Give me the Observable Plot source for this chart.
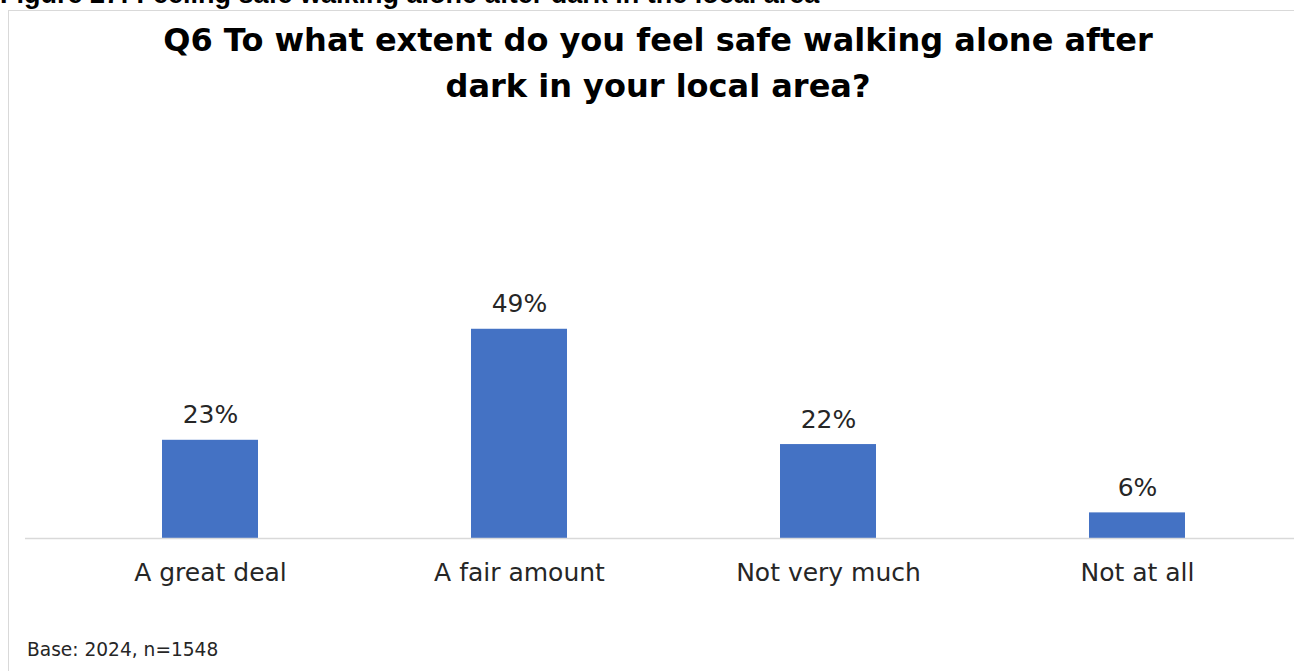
<!DOCTYPE html>
<html>
<head>
<meta charset="utf-8">
<script src="https://cdn.jsdelivr.net/npm/d3@7"></script>
<script src="https://cdn.jsdelivr.net/npm/@observablehq/plot@0.6"></script>
<style>
  html, body { margin: 0; padding: 0; background: #fff; width: 1294px; height: 671px; overflow: hidden; }
  #page { position: relative; width: 1294px; height: 671px; }
  #figcap { position: absolute; left: 0; top: -21px; font-family: "Liberation Sans", Arial, sans-serif; font-weight: bold; font-size: 27px; line-height: 30px; color: #000; white-space: nowrap; }
  #box { position: absolute; left: 8px; top: 10px; width: 1320px; height: 700px; border: 1px solid #d9d9d9; box-sizing: border-box; background: #fff; }
  #title { position: absolute; left: 0; width: 1316px; top: 17px; text-align: center; font-family: "DejaVu Sans", sans-serif; font-weight: bold; font-size: 32px; line-height: 46px; color: #000; }
  #chart { position: absolute; left: 0; top: 110px; }
  #note { position: absolute; left: 27px; top: 639px; font-family: "DejaVu Sans", sans-serif; font-size: 18.6px; line-height: 22px; color: #262626; white-space: nowrap; }
</style>
</head>
<body>
<div id="page">
  <div id="figcap"></div>
  <div id="box"></div>
  <div id="title"></div>
  <div id="chart"></div>
  <div id="note"></div>
</div>
<script>
const figureCaption = "Figure 27: Feeling safe walking alone after dark in the local area";
const titleLines = ["Q6 To what extent do you feel safe walking alone after", "dark in your local area?"];
const categories = ["A great deal", "A fair amount", "Not very much", "Not at all"];
const values = [23, 49, 22, 6];
const valueLabels = ["23%", "49%", "22%", "6%"];
const baseNote = "Base: 2024, n=1548";

document.getElementById("figcap").textContent = figureCaption;
document.getElementById("title").innerHTML = titleLines.map(t => `<div>${t}</div>`).join("");
document.getElementById("note").textContent = baseNote;

const data = categories.map((c, i) => ({category: c, value: values[i], label: valueLabels[i]}));

const chart = Plot.plot({
  width: 1294,
  height: 500,
  marginLeft: 25,
  marginRight: 0,
  marginTop: 1,
  marginBottom: 72,
  style: {fontFamily: "DejaVu Sans, sans-serif", background: "transparent"},
  x: {domain: categories, range: [54, 1292], paddingInner: 0.69, paddingOuter: 0.345, label: null},
  y: {domain: [0, 100], axis: null},
  marks: [
    Plot.barY(data, {x: "category", y: "value", fill: "#4472C4"}),
    Plot.ruleY([0], {stroke: "#d9d9d9", strokeWidth: 1.5}),
    Plot.text(data, {x: "category", y: "value", text: "label", lineAnchor: "bottom", dy: -17, fontSize: 25, fill: "#262626"}),
    Plot.axisX({tickSize: 0, tickPadding: 25, fontSize: 25, fill: "#262626", label: null})
  ]
});
document.getElementById("chart").appendChild(chart);
</script>
</body>
</html>
